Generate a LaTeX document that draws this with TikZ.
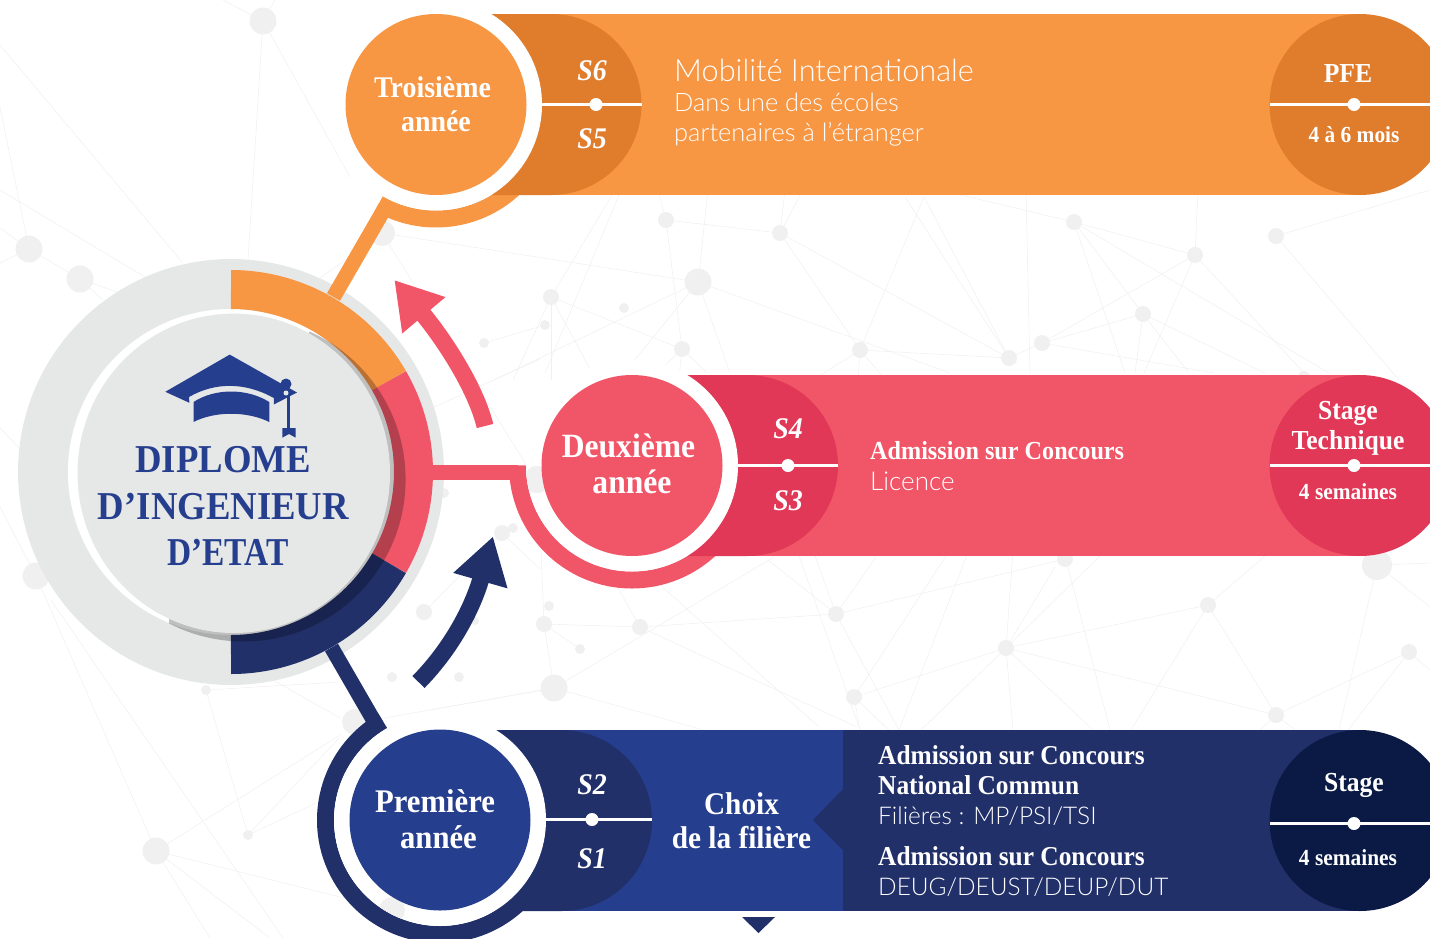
\documentclass[tikz,border=0pt]{standalone}
\usepackage{fontspec}
\setmainfont[FakeStretch=0.93]{Liberation Serif}
\newfontfamily\thinfont{Lato Light}
\usetikzlibrary{arrows.meta}
\usetikzlibrary{shapes,positioning}
\definecolor{orangemain}{HTML}{F79643}
\definecolor{orangedark}{HTML}{E07D2D}
\definecolor{pinkmain}{HTML}{F15668}
\definecolor{pinkdark}{HTML}{E03856}
\definecolor{bluemain}{HTML}{263E8E}
\definecolor{bluedark}{HTML}{22306A}
\definecolor{blueblack}{HTML}{0B1A45}
\definecolor{discgray}{HTML}{E6E8E8}
\definecolor{netgray}{HTML}{F0F0F0}
\tikzset{year-disc/.style={circle, inner sep=0, minimum size=181pt}}
\tikzset{year-gap/.style={circle, inner sep=0, minimum size=212pt, fill=white}}
\tikzset{end-lobe/.style={circle, inner sep=0, minimum size=181pt}}
\tikzset{split-line/.style={draw=white, line width=2.6pt}}
\tikzset{split-dot/.style={circle, inner sep=0, minimum size=13pt, fill=white}}
\tikzset{year-label/.style={text=white, align=center, font=\bfseries\fontsize{30}{34}\selectfont}}
\tikzset{sem-label/.style={text=white, font=\bfseries\itshape\fontsize{30}{34}\selectfont}}
\tikzset{end-label/.style={text=white, align=center, font=\bfseries\fontsize{27.5}{30}\selectfont}}
\tikzset{end-small/.style={text=white, font=\bfseries\fontsize{23}{26}\selectfont}}
\tikzset{bold-text/.style={text=white, anchor=west, inner sep=0, font=\bfseries\fontsize{27.3}{30}\selectfont}}
\tikzset{thin-text/.style={text=white, anchor=west, inner sep=0, font=\thinfont\fontsize{25.4}{30}\selectfont}}
\tikzset{title-text/.style={text=bluemain, inner sep=0, font=\bfseries\fontsize{39.5}{46}\selectfont}}
\begin{document}
\begin{tikzpicture}[x=1pt, y=1pt]
    \clip (0,0) rectangle (1430,-938);

    % network behind everything
    \foreach \xa/\ya/\xb/\yb in {263/21/223/0, 263/21/275/0, 263/21/248/260, 263/21/350/177, 0/45/183/263, 0/107/29/249, 0/190/145/277, 29/249/80/279, 0/228/29/249, 0/263/29/249, 80/279/117/292, 80/279/103/300, 320/278/350/257,
        0/428/20/449, 0/507/36/576, 36/576/156/851, 51/600/283/938, 156/851/340/735, 156/851/340/897, 156/851/210/938, 156/851/270/938, 206/690/248/835, 248/835/340/737, 248/835/316/803, 206/690/340/682, 275/681/340/718,
        382/233/698/282, 382/233/527/466, 540/359/434/407, 424/612/502/533, 502/533/540/569, 554/688/379/719,
        698/282/494/380, 698/282/621/377, 698/282/730/373, 698/282/950/373, 698/282/708/190, 666/220/780/233, 666/220/658/190, 666/220/682/349, 780/233/785/190, 780/233/803/190, 780/233/860/350, 780/233/1009/358, 551/297/682/349, 551/297/615/190, 545/373/621/190, 551/297/551/380, 551/297/596/380, 551/297/513/380, 484/343/545/325,
        860/350/924/197, 860/350/1009/358, 1009/358/905/197, 1009/358/924/197, 1026/190/1030/373, 1042/343/1195/255, 1042/343/1143/314, 1042/343/1214/373, 1074/222/940/190, 1074/222/1195/255, 1074/222/1143/314, 1074/222/1125/373, 1074/222/1329/373, 1195/255/1144/373, 1195/255/1198/190, 1195/255/1304/373, 1143/314/1135/373, 1143/314/1189/373, 1143/314/1265/373, 1276/236/1430/190, 1276/236/1399/380, 1009/358/1042/343, 860/350/813/380, 860/350/858/380, 860/350/886/380, 682/349/653/377, 682/349/679/377, 682/349/707/373,
        836/614/640/627, 544/624/640/627, 836/614/1065/559, 836/614/768/560, 836/614/813/550, 836/614/876/557, 836/614/899/730, 797/550/860/730, 950/550/854/697, 969/550/899/730,
        1006/648/1013/550, 1006/648/1055/567, 1006/648/1106/550, 1006/648/1208/605, 1006/648/1276/715, 1006/648/854/697, 1006/648/921/730, 1006/648/1013/730, 1006/648/1093/730, 1068/567/1110/730, 1208/605/1272/550, 1208/605/1276/715, 1208/605/1131/730, 1377/565/1339/730, 1377/565/1430/607, 1377/565/1430/563, 1409/652/1276/715, 1409/652/1348/730, 1409/652/1430/670, 1276/715/1260/730, 1276/715/1295/730, 854/697/889/730, 854/697/860/730,
        774/557/554/688, 554/688/430/710, 554/688/704/730, 640/627/857/727, 621/550/819/727, 640/627/615/583, 544/624/554/688, 544/624/541/550, 580/649/544/624}
        \draw[netgray, line width=0.55pt] (\xa,-\ya) -- (\xb,-\yb);
    \foreach \xa/\ya/\ra in {263/21/13.5, 29/249/13.5, 80/279/13.5, 36/576/13.5, 156/851/13.5, 206/690/5, 248/835/5, 382/233/13, 551/297/8, 545/325/5, 624/308/5, 484/343/5, 591/374/5, 682/349/8, 698/282/13.5, 780/233/8, 666/220/8, 860/350/8, 1009/358/8, 1042/343/8, 1143/314/8, 1195/255/8, 1074/222/8, 1276/236/8, 1377/565/15, 1208/605/8, 1065/559/8, 836/614/8, 640/627/8, 544/624/8, 424/612/8, 502/533/8, 549/606/5, 580/649/5, 554/688/13.5, 459/677/5, 392/677/5, 1006/648/8, 854/697/8, 1276/715/8, 1409/652/8, 513/528/5, 475/621/4, 444/493/5, 355/722/13, 1304/377/6}
        \fill[netgray] (\xa,-\ya) circle (\ra);

    \coordinate (hub) at (231,-472);
    \coordinate (third) at (436,-104.5);
    \coordinate (second) at (632,-465.5);
    \coordinate (first) at (440,-820);

    % big disc with its three coloured parts
    \node[circle, inner sep=0, minimum size=426pt, fill=discgray] (hubback) at (hub) {};
    \node[circle, inner sep=0, minimum size=326pt, fill=white] (hubgap) at (hub) {};
    \draw[orangemain, line width=39pt] ([shift={(90:182.5)}]hub) arc[start angle=90, end angle=30, radius=182.5];
    \draw[pinkmain, line width=39pt] ([shift={(30:182.5)}]hub) arc[start angle=30, end angle=-30, radius=182.5];
    \draw[bluedark, line width=39pt] ([shift={(-30:182.5)}]hub) arc[start angle=-30, end angle=-90, radius=182.5];
    \begin{scope}
        \clip (234,-473) -- (313,-325) -- (450,-325) -- (450,-660) -- (169,-660) -- (169,-620) -- cycle;
        \fill[black, opacity=0.25] (243.6,-479.5) circle (162);
    \end{scope}
    \node[ellipse, inner sep=0, minimum width=312.5pt, minimum height=319.4pt, fill=discgray] (hubfront) at (233.75,-473.3) {};

    % rings and the bands that lead to the hub
    \coordinate (thirdfoot) at (333.5,-297);
    \coordinate (thirdhead) at (385.5,-207);
    \coordinate (secondfoot) at (425,-472.5);
    \coordinate (secondhead) at (518,-472.5);
    \coordinate (firstfoot) at (331.5,-647.5);
    \coordinate (firsthead) at (376,-724.5);
    \draw[orangemain, line width=15pt] (thirdfoot) -- (thirdhead);
    \draw[pinkmain, line width=15pt] (secondfoot) -- (secondhead);
    \draw[bluedark, line width=15pt] (firstfoot) -- (firsthead);
    \draw[orangemain, line width=17pt] ([shift={(240:114.5)}]third) arc[start angle=240, end angle=315, radius=114.5];
    \draw[pinkmain, line width=17pt] ([shift={(180:114.5)}]second) arc[start angle=180, end angle=315, radius=114.5];
    \draw[bluedark, line width=17pt] ([shift={(120:114.5)}]first) arc[start angle=120, end angle=315, radius=114.5];

    % third year
    \fill[orangemain] (436,-14) rectangle (1360,-195);
    \fill[orangedark] (436,-14) -- (551,-14) arc[start angle=90, end angle=-90, radius=90.5] -- (436,-195) -- cycle;
    \node[end-lobe, fill=orangedark] (pfe) at (1360,-104.5) {};
    \node[year-gap] (thirdgap) at (third) {};
    \node[year-disc, fill=orangemain] (thirddisc) at (third) {};
    \node[year-label] (thirdlabel) at (432.5,-104) {Troisième\\\hspace{7pt}année};
    \draw[split-line] (542,-104.5) -- (642,-104.5);
    \draw[split-line] (1270,-104.5) -- (1430,-104.5);
    \node[split-dot] (dotsix) at (596,-104.5) {};
    \node[split-dot] (dotpfe) at (1354,-104.5) {};
    \node[sem-label] (semsix) at (592,-71) {S6};
    \node[sem-label] (semfive) at (592,-139) {S5};
    \node[thin-text, font=\thinfont\fontsize{30.7}{34}\selectfont] (mobil) at (674,-70) {Mobilité Internationale};
    \node[thin-text] (dans) at (674,-102) {Dans une des écoles};
    \node[thin-text] (partner) at (674,-134) {partenaires à l’étranger};
    \node[end-label] (pfelabel) at (1348,-73) {PFE};
    \node[end-small] (pfetime) at (1354,-135) {4 à 6 mois};

    % second year
    \fill[pinkmain] (632,-375) rectangle (1360,-556);
    \fill[pinkdark] (632,-375) -- (747.5,-375) arc[start angle=90, end angle=-90, radius=90.5] -- (632,-556) -- cycle;
    \node[end-lobe, fill=pinkdark] (stagetech) at (1360,-465.5) {};
    \node[year-gap] (secondgap) at (second) {};
    \begin{scope}
        \clip (second) circle (106);
        \fill[netgray] (537,-479.5) circle (13.5);
    \end{scope}
    \node[year-disc, fill=pinkmain] (seconddisc) at (second) {};
    \node[year-label, font=\bfseries\fontsize{34}{36}\selectfont] (secondlabel) at (628.5,-464) {Deuxième\\\hspace{7pt}année};
    \draw[split-line] (738,-465.5) -- (838,-465.5);
    \draw[split-line] (1270,-465.5) -- (1430,-465.5);
    \node[split-dot] (dotfour) at (788,-465.5) {};
    \node[split-dot] (dotstage) at (1354,-465.5) {};
    \node[sem-label] (semfour) at (788,-429) {S4};
    \node[sem-label] (semthree) at (788,-501) {S3};
    \node[bold-text, font=\bfseries\fontsize{26}{30}\selectfont] (admisb) at (870,-451) {Admission sur Concours};
    \node[thin-text, font=\thinfont\fontsize{26}{30}\selectfont] (licence) at (870,-481) {Licence};
    \node[end-label] (stagelabel) at (1348,-428) {Stage\\Technique};
    \node[end-small] (stagetime) at (1348,-492) {4 semaines};

    % first year
    \fill[bluemain] (440,-730) rectangle (843,-911);
    \fill[bluedark] (843,-730) rectangle (1360,-911);
    \fill[bluedark] (843,-789) -- (813,-820) -- (843,-850) -- cycle;
    \fill[bluedark] (440,-730) -- (561.5,-730) arc[start angle=90, end angle=-90, radius=90.5] -- (440,-911) -- cycle;
    \node[end-lobe, fill=blueblack] (stagefirst) at (1360,-820.5) {};
    \node[year-gap] (firstgap) at (first) {};
    \begin{scope}
        \clip (first) circle (106);
        \fill[netgray] (392,-910) circle (13);
    \end{scope}
    \node[year-disc, fill=bluemain] (firstdisc) at (first) {};
    \node[year-label, font=\bfseries\fontsize{33}{36}\selectfont] (firstlabel) at (435,-819) {Première\\\hspace{7pt}année};
    \draw[split-line] (545,-819.5) -- (652,-819.5);
    \draw[split-line] (1270,-823.5) -- (1430,-823.5);
    \node[split-dot] (dottwo) at (592,-819.5) {};
    \node[split-dot] (dotfirst) at (1354,-823.5) {};
    \node[sem-label] (semtwo) at (592,-785) {S2};
    \node[sem-label] (semone) at (592,-859) {S1};
    \node[year-label, font=\bfseries\fontsize{31.5}{34}\selectfont] (choix) at (741.5,-821) {Choix\hspace{8pt}\\de la filière};
    \node[bold-text] (admisa) at (878,-755) {Admission sur Concours};
    \node[bold-text] (national) at (878,-785) {National Commun};
    \node[thin-text, font=\thinfont\fontsize{24.4}{30}\selectfont] (filieres) at (878,-816) {Filières : MP/PSI/TSI};
    \node[bold-text] (admisc) at (878,-856) {Admission sur Concours};
    \node[thin-text, font=\thinfont\fontsize{24.4}{30}\selectfont] (deug) at (878,-887) {DEUG/DEUST/DEUP/DUT};
    \node[end-label] (stagename) at (1354,-785) {Stage};
    \node[end-small] (firsttime) at (1348,-858) {4 semaines};
    \fill[bluedark] (742,-917) -- (775,-917) -- (758.5,-933) -- cycle;

    % arrows between the years
    \coordinate (pinktail) at (485,-426);
    \coordinate (pinktip) at (394.3,-280);
    \coordinate (bluetail) at (418.5,-682);
    \coordinate (bluetip) at (493,-536.4);
    \draw[-{Triangle[length=46pt, width=53pt]}, pinkmain, line width=17pt] (pinktail)
        .. controls (476,-388) and (443,-338) .. (pinktip);
    \draw[-{Triangle[length=46pt, width=53pt]}, bluedark, line width=17pt] (bluetail)
        .. controls (450,-650) and (472,-610) .. (bluetip);

    % cap
    \fill[bluemain] (165.3,-391.8) -- (229.7,-354.6) -- (297,-392.5) -- (273.8,-404.5) -- (273.8,-398)
        .. controls (245,-382) and (215,-382) .. (189,-397) -- (189.4,-402.8) -- cycle;
    \fill[bluemain] (193.5,-402) .. controls (215,-388) and (247,-388) .. (269.3,-402) -- (269.3,-422)
        .. controls (247,-411) and (215,-411) .. (193.5,-422) -- cycle;
    \draw[bluemain, line width=2.6pt] (288.6,-390) -- (288.6,-430);
    \fill[bluemain] (282.4,-428) -- (295.5,-428) -- (295.5,-437.6) -- (289,-434) -- (282.4,-437.6) -- cycle;
    \fill[bluemain] (286,-384) circle (5.5);
    \fill[bluemain] (286,-393) circle (4);
    \fill[discgray] (286,-393) circle (2.5);

    \node[title-text] (diplome) at (223,-459.5) {DIPLOME};
    \node[title-text] (ingenieur) at (223.5,-506.5) {D’INGENIEUR};
    \node[title-text] (etat) at (228,-552.5) {\scalebox{0.91}[1]{D’ETAT}};
\end{tikzpicture}
\end{document}
